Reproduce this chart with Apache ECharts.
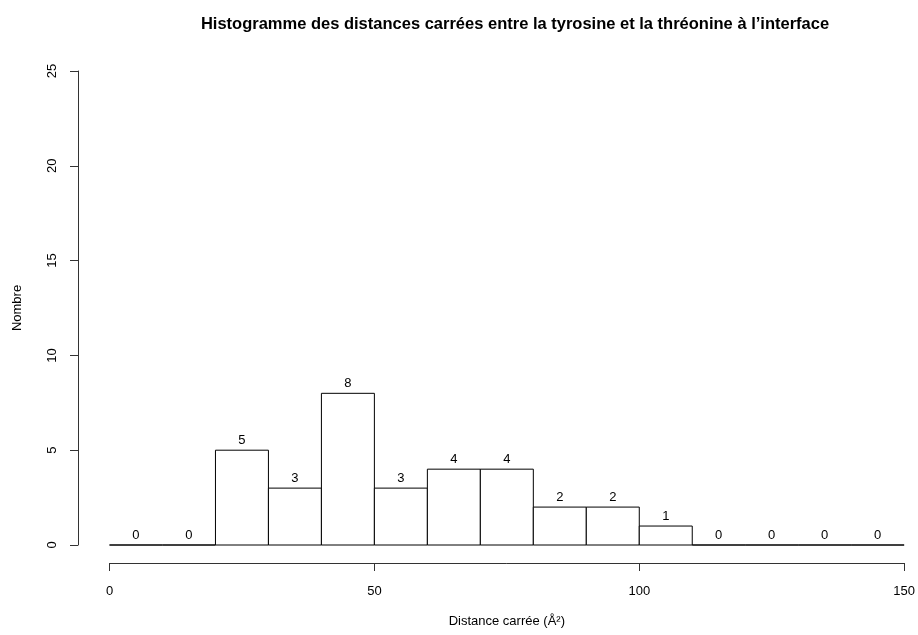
<!DOCTYPE html>
<html>
<head>
<meta charset="utf-8">
<script src="https://cdn.jsdelivr.net/npm/echarts@6/dist/echarts.min.js"></script>
<style>html,body{margin:0;padding:0;background:#fff}#c{width:918px;height:635px}</style>
</head>
<body>
<div id="c"></div>
<script>
var binStarts = [0, 10, 20, 30, 40, 50, 60, 70, 80, 90, 100, 110, 120, 130, 140];
var binWidth = 10;
var counts = [0, 0, 5, 3, 8, 3, 4, 4, 2, 2, 1, 0, 0, 0, 0];
var xTicks = [0, 50, 100, 150];
var yTicks = [0, 5, 10, 15, 20, 25];
var titleText = 'Histogramme des distances carrées entre la tyrosine et la thréonine à l’interface';
var xName = 'Distance carrée (Å²)';
var yName = 'Nombre';

var FONT = '"Liberation Sans", Arial, Helvetica, sans-serif';
var data = binStarts.map(function (s, i) { return [s, s + binWidth, counts[i]]; });

var chart = echarts.init(document.getElementById('c'), null, {renderer: 'canvas'});
chart.setOption({
  backgroundColor: '#fff',
  animation: false,
  title: {
    text: titleText, left: 510, top: 11, textAlign: 'center',
    textStyle: {fontFamily: FONT, fontSize: 16.5, fontWeight: 'bold', color: '#000'}
  },
  grid: {left: 109.5, right: 12, top: 71, bottom: 90},
  xAxis: {
    type: 'value', min: 0, max: 150, interval: 50, offset: 18,
    splitLine: {show: false},
    axisLine: {show: true, onZero: false, lineStyle: {color: '#333', width: 1}},
    axisTick: {show: true, length: 8, lineStyle: {color: '#333'}},
    axisLabel: {fontFamily: FONT, fontSize: 13, color: '#000', margin: 22,
      formatter: function (v) { return xTicks.indexOf(v) >= 0 ? String(v) : ''; }},
    name: xName, nameLocation: 'middle', nameGap: 52,
    nameTextStyle: {fontFamily: FONT, fontSize: 13, color: '#000'}
  },
  yAxis: {
    type: 'value', min: 0, max: 25, interval: 5, offset: 31.5,
    splitLine: {show: false},
    axisLine: {show: true, onZero: false, lineStyle: {color: '#333', width: 1}},
    axisTick: {show: true, length: 8, lineStyle: {color: '#333'}},
    axisLabel: {fontFamily: FONT, fontSize: 13, color: '#000', margin: 19, rotate: 90,
      formatter: function (v) { return yTicks.indexOf(v) >= 0 ? String(v) : ''; }},
    name: yName, nameLocation: 'middle', nameGap: 54,
    nameTextStyle: {fontFamily: FONT, fontSize: 13, color: '#000'}
  },
  series: [{
    type: 'custom',
    data: data,
    encode: {x: [0, 1], y: 2},
    renderItem: function (params, api) {
      var p0 = api.coord([api.value(0), api.value(2)]);
      var p1 = api.coord([api.value(1), 0]);
      return {
        type: 'group',
        children: [{
          type: 'rect',
          shape: {x: p0[0], y: p0[1], width: p1[0] - p0[0], height: p1[1] - p0[1]},
          style: {fill: '#fff', stroke: '#000', lineWidth: 1}
        }, {
          type: 'text',
          style: {
            text: String(api.value(2)), x: (p0[0] + p1[0]) / 2, y: p0[1] - 3,
            textAlign: 'center', textVerticalAlign: 'bottom',
            font: '13px ' + FONT, fill: '#000'
          }
        }]
      };
    }
  }]
});
</script>
</body>
</html>
